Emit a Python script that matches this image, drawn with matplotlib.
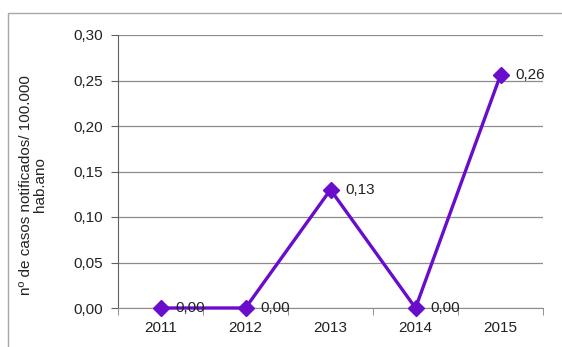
import matplotlib.pyplot as plt
import numpy as np
from matplotlib.patches import Rectangle

years = ["2011", "2012", "2013", "2014", "2015"]
rates = [0.0, 0.0, 0.13, 0.0, 0.256]
labels = ["0,00", "0,00", "0,13", "0,00", "0,26"]
yticks = [0.0, 0.05, 0.10, 0.15, 0.20, 0.25, 0.30]

plt.rcParams['font.family'] = ['Liberation Sans', 'DejaVu Sans']
fs = 11

fig = plt.figure(figsize=(5.62, 3.47), dpi=100)
ax = fig.add_axes([118 / 562, 1 - 308 / 347, 425 / 562, 273 / 347])

# outer chart frame (only top and left visible in the crop)
fig.patches.append(Rectangle((8 / 562, -0.1), 1.2, 1 - 13 / 347 + 0.1,
                             transform=fig.transFigure, fill=False,
                             edgecolor='#a8a8a8', linewidth=1.0))

x = np.arange(len(years))
ax.plot(x, rates, color='#6a0ccc', linewidth=2.4, marker='D',
        markersize=8.5, zorder=3, clip_on=False)

for xi, yi, lab in zip(x, rates, labels):
    ax.annotate(lab, xy=(xi, yi), xytext=(11, 0), textcoords='offset points',
                ha='left', va='center', fontsize=fs, color='#222222')

ax.set_xlim(-0.5, 4.5)
ax.set_ylim(0, 0.30)
ax.set_yticks(yticks)
ax.set_yticklabels([f"{v:.2f}".replace('.', ',') for v in yticks], fontsize=fs, color='#222222')
ax.set_xticks(x)
ax.set_xticklabels(years, fontsize=fs, color='#222222')
ax.set_xticks(np.arange(-0.5, 5, 1), minor=True)
ax.tick_params(axis='x', which='major', length=0, pad=9)
ax.tick_params(axis='x', which='minor', length=5, color='#808080', direction='out')
ax.tick_params(axis='y', length=5, color='#606060', pad=6)

ax.yaxis.grid(True, color='#8c8c8c', linewidth=0.9)
ax.set_axisbelow(True)
for s in ['top', 'right']:
    ax.spines[s].set_visible(False)
ax.spines['left'].set_color('#606060')
ax.spines['bottom'].set_color('#8c8c8c')

fig.text(33 / 562, 1 - 185 / 347, "nº de casos notificados/ 100.000\nhab.ano",
         rotation=90, ha='center', va='center', fontsize=fs, color='#222222',
         multialignment='center', linespacing=1.0)

fig.savefig('out.png', dpi=100)
